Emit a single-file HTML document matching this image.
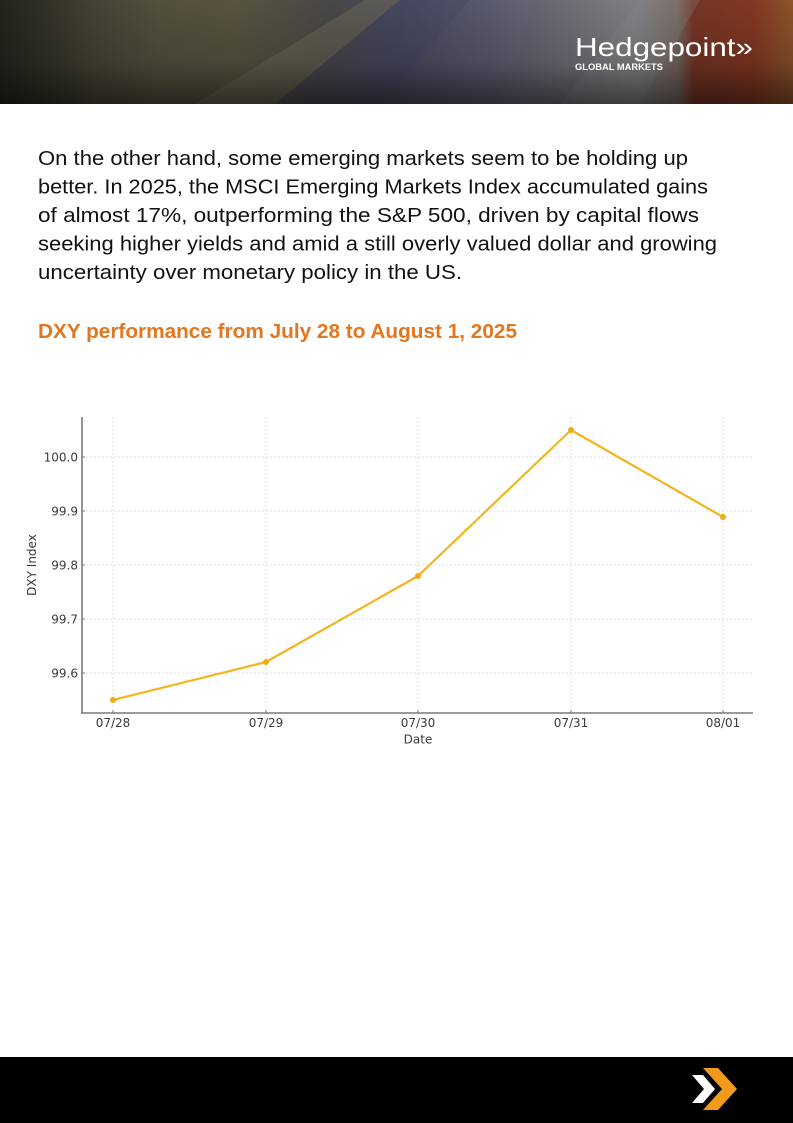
<!DOCTYPE html>
<html>
<head>
<meta charset="utf-8">
<style>
  html,body{margin:0;padding:0;background:#fff;}
  body{width:793px;height:1123px;overflow:hidden;}
  svg{display:block;}
</style>
</head>
<body>
<svg width="793" height="1123" viewBox="0 0 793 1123" xmlns="http://www.w3.org/2000/svg">
  <defs>
    <linearGradient id="hdrH" x1="0" y1="0" x2="1" y2="0">
      <stop offset="0" stop-color="#3a382e"/>
      <stop offset="0.12" stop-color="#55513f"/>
      <stop offset="0.30" stop-color="#5c5843"/>
      <stop offset="0.42" stop-color="#4d4b4a"/>
      <stop offset="0.50" stop-color="#4c4c62"/>
      <stop offset="0.62" stop-color="#5f5f74"/>
      <stop offset="0.72" stop-color="#74747c"/>
      <stop offset="0.80" stop-color="#86868a"/>
      <stop offset="0.855" stop-color="#7a6a62"/>
      <stop offset="0.875" stop-color="#7c3828"/>
      <stop offset="0.95" stop-color="#8a3a24"/>
      <stop offset="1" stop-color="#94582e"/>
    </linearGradient>
    <linearGradient id="hdrV" x1="0" y1="0" x2="0" y2="1">
      <stop offset="0" stop-color="#000" stop-opacity="0.05"/>
      <stop offset="0.6" stop-color="#000" stop-opacity="0.2"/>
      <stop offset="1" stop-color="#000" stop-opacity="0.55"/>
    </linearGradient>
    <linearGradient id="hdrL" x1="0" y1="0" x2="1" y2="0">
      <stop offset="0" stop-color="#000" stop-opacity="0.35"/>
      <stop offset="0.2" stop-color="#000" stop-opacity="0"/>
      <stop offset="1" stop-color="#000" stop-opacity="0"/>
    </linearGradient>
  </defs>

  <!-- Header banner -->
  <rect x="0" y="0" width="793" height="104" fill="url(#hdrH)"/>
  <!-- dollar edge light band -->
  <polygon points="195,104 275,104 400,0 365,0" fill="#7a7660" opacity="0.45"/>
  <!-- blue note lower region -->
  <polygon points="275,104 400,0 470,0 380,104" fill="#45456a" opacity="0.3"/>
  <polygon points="560,104 640,0 700,0 640,104" fill="#9a9a9c" opacity="0.22"/>
  <rect x="0" y="0" width="793" height="104" fill="url(#hdrV)"/>
  <rect x="0" y="0" width="793" height="104" fill="url(#hdrL)"/>

  <!-- Logo -->
  <text x="575" y="56" font-family="Liberation Sans, DejaVu Sans, sans-serif" font-size="26" fill="#ffffff" textLength="178" lengthAdjust="spacingAndGlyphs">Hedgepoint»</text>
  <text x="575" y="70" font-family="Liberation Sans, DejaVu Sans, sans-serif" font-size="9" font-weight="bold" fill="#ffffff" textLength="88" lengthAdjust="spacingAndGlyphs">GLOBAL MARKETS</text>

  <!-- Body text -->
  <g font-family="Liberation Sans, DejaVu Sans, sans-serif" font-size="20.5" fill="#111111">
    <text x="38" y="165" textLength="650" lengthAdjust="spacingAndGlyphs">On the other hand, some emerging markets seem to be holding up</text>
    <text x="38" y="193.5" textLength="670" lengthAdjust="spacingAndGlyphs">better. In 2025, the MSCI Emerging Markets Index accumulated gains</text>
    <text x="38" y="222" textLength="661" lengthAdjust="spacingAndGlyphs">of almost 17%, outperforming the S&amp;P 500, driven by capital flows</text>
    <text x="38" y="250.5" textLength="679" lengthAdjust="spacingAndGlyphs">seeking higher yields and amid a still overly valued dollar and growing</text>
    <text x="38" y="279" textLength="424" lengthAdjust="spacingAndGlyphs">uncertainty over monetary policy in the US.</text>
  </g>
  <text x="38" y="338" font-family="Liberation Sans, DejaVu Sans, sans-serif" font-size="20" font-weight="bold" fill="#E3761E" textLength="479" lengthAdjust="spacingAndGlyphs">DXY performance from July 28 to August 1, 2025</text>

  <!-- Chart gridlines -->
  <g stroke="#d8d8d8" stroke-width="0.8" stroke-dasharray="2,2" fill="none">
    <line x1="82" y1="457" x2="753" y2="457"/>
    <line x1="82" y1="511" x2="753" y2="511"/>
    <line x1="82" y1="565" x2="753" y2="565"/>
    <line x1="82" y1="619" x2="753" y2="619"/>
    <line x1="82" y1="673" x2="753" y2="673"/>
    <line x1="113" y1="417" x2="113" y2="713"/>
    <line x1="266" y1="417" x2="266" y2="713"/>
    <line x1="418" y1="417" x2="418" y2="713"/>
    <line x1="571" y1="417" x2="571" y2="713"/>
    <line x1="723" y1="417" x2="723" y2="713"/>
  </g>

  <!-- Spines -->
  <g stroke="#7a7a7a" stroke-width="1.6" fill="none">
    <line x1="82" y1="417" x2="82" y2="713.8"/>
    <line x1="81.2" y1="713" x2="753" y2="713"/>
  </g>
  <!-- tick marks -->
  <g stroke="#7a7a7a" stroke-width="1">
    <line x1="82" y1="457" x2="85" y2="457"/>
    <line x1="82" y1="511" x2="85" y2="511"/>
    <line x1="82" y1="565" x2="85" y2="565"/>
    <line x1="82" y1="619" x2="85" y2="619"/>
    <line x1="82" y1="673" x2="85" y2="673"/>
    <line x1="113" y1="713" x2="113" y2="710"/>
    <line x1="266" y1="713" x2="266" y2="710"/>
    <line x1="418" y1="713" x2="418" y2="710"/>
    <line x1="571" y1="713" x2="571" y2="710"/>
    <line x1="723" y1="713" x2="723" y2="710"/>
  </g>

  <!-- Y tick labels -->
  <g font-family="DejaVu Sans, Liberation Sans, sans-serif" font-size="12" fill="#3a3a3a" text-anchor="end">
    <text x="78" y="461.3">100.0</text>
    <text x="78" y="515.3">99.9</text>
    <text x="78" y="569.3">99.8</text>
    <text x="78" y="623.3">99.7</text>
    <text x="78" y="677.3">99.6</text>
  </g>
  <!-- X tick labels -->
  <g font-family="DejaVu Sans, Liberation Sans, sans-serif" font-size="12" fill="#3a3a3a" text-anchor="middle">
    <text x="113" y="727">07/28</text>
    <text x="266" y="727">07/29</text>
    <text x="418" y="727">07/30</text>
    <text x="571" y="727">07/31</text>
    <text x="723" y="727">08/01</text>
    <text x="418" y="743.5">Date</text>
  </g>
  <text transform="translate(36,565) rotate(-90)" font-family="DejaVu Sans, Liberation Sans, sans-serif" font-size="12" fill="#3a3a3a" text-anchor="middle">DXY Index</text>

  <!-- Series -->
  <polyline points="113,700 266,662 418,576 571,430 723,517" fill="none" stroke="#F4B41E" stroke-width="2.2" stroke-linejoin="round"/>
  <g fill="#F2AA15">
    <circle cx="113" cy="700" r="3"/>
    <circle cx="266" cy="662" r="3"/>
    <circle cx="418" cy="576" r="3"/>
    <circle cx="571" cy="430" r="3"/>
    <circle cx="723" cy="517" r="3"/>
  </g>

  <!-- Footer -->
  <rect x="0" y="1057" width="793" height="66" fill="#000000"/>
  <polygon points="692,1075 703,1075 715,1089 703,1103 692,1103 704,1089" fill="#ffffff"/>
  <polygon points="703,1068 718,1068 737,1089 718,1110 703,1110 722,1089" fill="#F29A1A"/>
</svg>
</body>
</html>
